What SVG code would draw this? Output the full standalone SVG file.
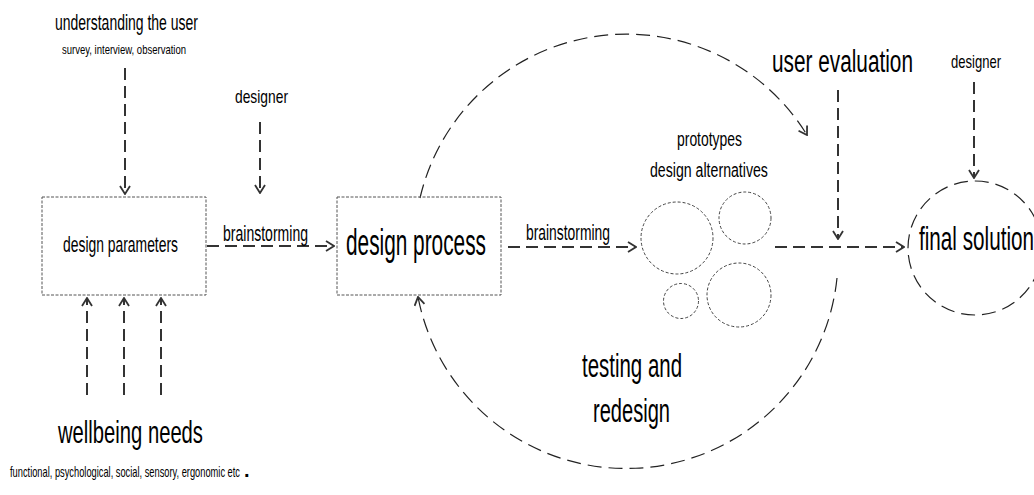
<svg xmlns="http://www.w3.org/2000/svg" width="1034" height="495" viewBox="0 0 1034 495">
<style>
.t{font-family:"Liberation Sans",Arial,sans-serif;fill:#000}
.box{fill:none;stroke:#555;stroke-width:1;stroke-dasharray:3 1.5}
.sc{fill:none;stroke:#444;stroke-width:1;stroke-dasharray:3 2}
.conn{fill:none;stroke:#333;stroke-width:2;stroke-dasharray:12 6}
.arc{fill:none;stroke:#222;stroke-width:1.2;stroke-dasharray:14 7}
</style>
<defs>
<marker id="ah" viewBox="0 0 10 12" refX="9" refY="6" markerWidth="10" markerHeight="12" markerUnits="userSpaceOnUse" orient="auto">
<path d="M1,1 L9,6 L1,11" fill="none" stroke="#333" stroke-width="1.8"/>
</marker>
</defs>
<rect width="1034" height="495" fill="#fff"/>
<g id="connectors">
<line class="conn" x1="125" y1="68" x2="125" y2="194" marker-end="url(#ah)"/>
<line class="conn" x1="260" y1="122" x2="260" y2="193" marker-end="url(#ah)"/>
<line class="conn" x1="87" y1="395" x2="87" y2="298" marker-end="url(#ah)"/>
<line class="conn" x1="124" y1="395" x2="124" y2="298" marker-end="url(#ah)"/>
<line class="conn" x1="161" y1="395" x2="161" y2="298" marker-end="url(#ah)"/>
<line class="conn" x1="207" y1="246" x2="334" y2="246" marker-end="url(#ah)"/>
<line class="conn" x1="508" y1="247" x2="636" y2="247" marker-end="url(#ah)"/>
<line class="conn" x1="775" y1="247" x2="904" y2="247" marker-end="url(#ah)"/>
<line class="conn" x1="838" y1="90" x2="838" y2="239" marker-end="url(#ah)"/>
<line class="conn" x1="974" y1="82" x2="974" y2="178" marker-end="url(#ah)"/>
<path class="arc" d="M420,198 A212,212 0 0 1 807,135" marker-end="url(#ah)"/>
<path class="arc" d="M837,278 A212,212 0 0 1 418,297" marker-end="url(#ah)"/>
</g>
<g id="understanding">
<text class="t" transform="translate(55,30) scale(0.64,1)" font-size="22" textLength="223.4" lengthAdjust="spacingAndGlyphs">understanding the user</text>
<text class="t" transform="translate(62,54) scale(0.785,1)" font-size="12" textLength="158" lengthAdjust="spacingAndGlyphs">survey, interview, observation</text>
</g>
<g id="designer1">
<text class="t" transform="translate(235,103) scale(0.768,1)" font-size="18" textLength="69" lengthAdjust="spacingAndGlyphs">designer</text>
</g>
<g id="design-parameters">
<rect class="box" x="42" y="197" width="164" height="98"/>
<text class="t" transform="translate(63,252) scale(0.632,1)" font-size="22" textLength="182" lengthAdjust="spacingAndGlyphs">design parameters</text>
</g>
<g id="brainstorming1">
<text class="t" transform="translate(223,241) scale(0.589,1)" font-size="22" textLength="144.3" lengthAdjust="spacingAndGlyphs">brainstorming</text>
</g>
<g id="design-process">
<rect class="box" x="337" y="197" width="164" height="98"/>
<text class="t" transform="translate(346,255) scale(0.578,1)" font-size="36" textLength="242.2" lengthAdjust="spacingAndGlyphs">design process</text>
</g>
<g id="brainstorming2">
<text class="t" transform="translate(526,240) scale(0.589,1)" font-size="22" textLength="142.6" lengthAdjust="spacingAndGlyphs">brainstorming</text>
</g>
<g id="prototypes">
<text class="t" transform="translate(677,146) scale(0.696,1)" font-size="20" textLength="93.4" lengthAdjust="spacingAndGlyphs">prototypes</text>
<text class="t" transform="translate(650,177) scale(0.674,1)" font-size="21" textLength="175" lengthAdjust="spacingAndGlyphs">design alternatives</text>
<circle class="sc" cx="677" cy="238" r="36"/>
<circle class="sc" cx="745" cy="218" r="26"/>
<circle class="sc" cx="739" cy="295" r="32"/>
<circle class="sc" cx="681" cy="301" r="17.5"/>
</g>
<g id="user-evaluation">
<text class="t" transform="translate(772,72) scale(0.671,1)" font-size="31" textLength="210.1" lengthAdjust="spacingAndGlyphs">user evaluation</text>
</g>
<g id="designer2">
<text class="t" transform="translate(951,68) scale(0.725,1)" font-size="18" textLength="69" lengthAdjust="spacingAndGlyphs">designer</text>
</g>
<g id="final-solution">
<circle class="arc" cx="975" cy="248" r="67"/>
<text class="t" transform="translate(919,250) scale(0.614,1)" font-size="34" textLength="187.3" lengthAdjust="spacingAndGlyphs">final solution</text>
</g>
<g id="testing">
<text class="t" transform="translate(582,377) scale(0.62,1)" font-size="33" textLength="161.3" lengthAdjust="spacingAndGlyphs">testing and</text>
<text class="t" transform="translate(593,422) scale(0.608,1)" font-size="33" textLength="126.6" lengthAdjust="spacingAndGlyphs">redesign</text>
</g>
<g id="wellbeing">
<text class="t" transform="translate(58,443) scale(0.632,1)" font-size="32" textLength="229.4" lengthAdjust="spacingAndGlyphs">wellbeing needs</text>
<text class="t" transform="translate(10,477) scale(0.664,1)" font-size="14" textLength="346.4" lengthAdjust="spacingAndGlyphs">functional, psychological, social, sensory, ergonomic etc</text>
<text class="t" x="244" y="477" font-size="20" font-weight="bold">.</text>
</g>
</svg>
